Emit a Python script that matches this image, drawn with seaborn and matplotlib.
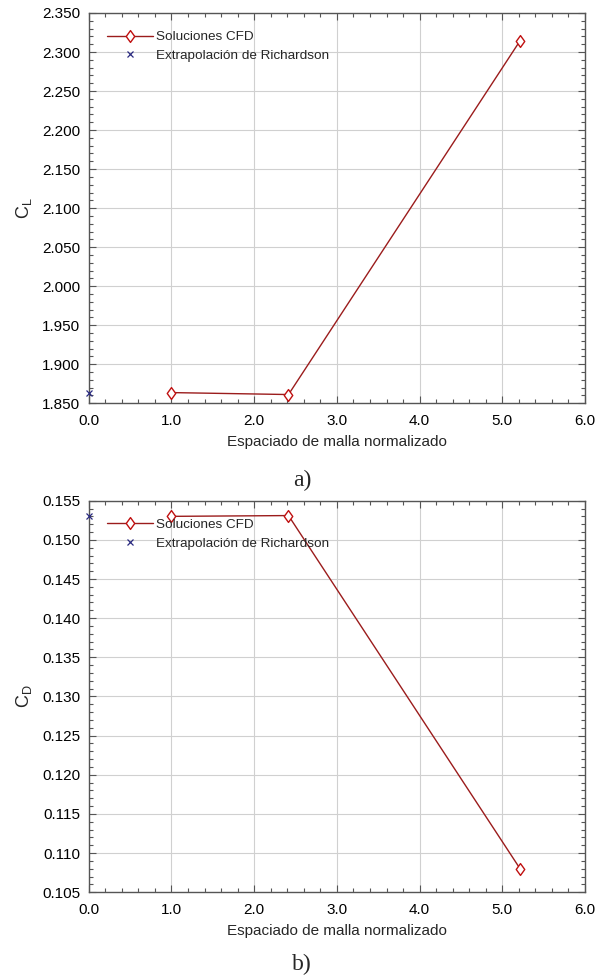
import numpy as np
import pandas as pd
import matplotlib
matplotlib.use("Agg")
import matplotlib.pyplot as plt
import seaborn as sns
from matplotlib.path import Path
from matplotlib.ticker import MultipleLocator, FormatStrFormatter

# Mesh spacing (normalised) and CFD results
spacing = [1.0, 2.415, 5.215]
cl_cfd = [1.8637, 1.8612, 2.3145]
cd_cfd = [0.1530, 0.1531, 0.1080]

# Richardson extrapolation (zero spacing)
rich_x = [0.0]
cl_rich = [1.8637]
cd_rich = [0.1530]

panels = [
    dict(y=cl_cfd, yr=cl_rich, ylabel=r"C$_\mathregular{L}$", ylim=(1.85, 2.35),
         major=0.05, minor=0.01, tag="a)"),
    dict(y=cd_cfd, yr=cd_rich, ylabel=r"C$_\mathregular{D}$", ylim=(0.105, 0.155),
         major=0.005, minor=0.001, tag="b)"),
]

# diamond a bit narrower than tall, like the original
diamond = Path([(0, 1), (0.72, 0), (0, -1), (-0.72, 0), (0, 1)],
               [Path.MOVETO, Path.LINETO, Path.LINETO, Path.LINETO, Path.CLOSEPOLY])

sns.set_style("ticks")
plt.rcParams["font.family"] = ["Liberation Sans", "DejaVu Sans"]
plt.rcParams["mathtext.fontset"] = "custom"
plt.rcParams["mathtext.rm"] = "Liberation Sans"

fig = plt.figure(figsize=(6.04, 9.76), dpi=100)
ax_rects = [[0.1469, 0.5868, 0.8217, 0.3999], [0.1469, 0.0858, 0.8217, 0.4012]]
tag_y = [0.497, 0.001]

spine_col = "#555555"
for rect, p, ty in zip(ax_rects, panels, tag_y):
    ax = fig.add_axes(rect)
    df = pd.DataFrame({"x": spacing, "y": p["y"]})
    sns.lineplot(data=df, x="x", y="y", ax=ax, sort=False, color="#9b1c1c", lw=1.0,
                 marker=diamond, markersize=8.5, markerfacecolor="white",
                 markeredgecolor="#c01010", markeredgewidth=1.0,
                 label="Soluciones CFD", zorder=3)
    dr = pd.DataFrame({"x": rich_x, "y": p["yr"]})
    sns.lineplot(data=dr, x="x", y="y", ax=ax, color="#2a2a80", linestyle="",
                 marker="x", markersize=5, markeredgewidth=0.9,
                 markeredgecolor="#2a2a80", markerfacecolor="#2a2a80",
                 label="Extrapolación de Richardson", zorder=4, clip_on=False)

    ax.set_xlim(0, 6)
    ax.set_ylim(*p["ylim"])
    ax.xaxis.set_major_locator(MultipleLocator(1.0))
    ax.xaxis.set_minor_locator(MultipleLocator(0.2))
    ax.yaxis.set_major_locator(MultipleLocator(p["major"]))
    ax.yaxis.set_minor_locator(MultipleLocator(p["minor"]))
    ax.xaxis.set_major_formatter(FormatStrFormatter("%.1f"))
    ax.yaxis.set_major_formatter(FormatStrFormatter("%.3f"))
    ax.grid(True, which="major", color="#d0d0d0", lw=0.8)
    ax.set_axisbelow(True)
    ax.tick_params(which="both", direction="in", top=True, right=True,
                   colors=spine_col, labelcolor="black", labelsize=11)
    ax.tick_params(axis="x", which="major", length=5, width=0.8, pad=8)
    ax.tick_params(axis="y", which="major", length=5, width=0.8, pad=6)
    ax.tick_params(which="minor", length=3, width=0.8)
    for s in ax.spines.values():
        s.set_color(spine_col)
        s.set_linewidth(1.0)

    ax.set_xlabel("Espaciado de malla normalizado", fontsize=11, labelpad=5)
    ax.set_ylabel(p["ylabel"], fontsize=13, labelpad=6)

    ax.legend(loc="upper left", bbox_to_anchor=(0.018, 0.978), frameon=False,
              fontsize=9.7, handlelength=3.4, handletextpad=0.25,
              labelspacing=0.45, borderaxespad=0.3)

    fig.text(0.5, ty, p["tag"], ha="center", va="bottom", fontsize=17,
             family=["Liberation Serif", "DejaVu Serif"])

fig.savefig("out.png", dpi=100)
